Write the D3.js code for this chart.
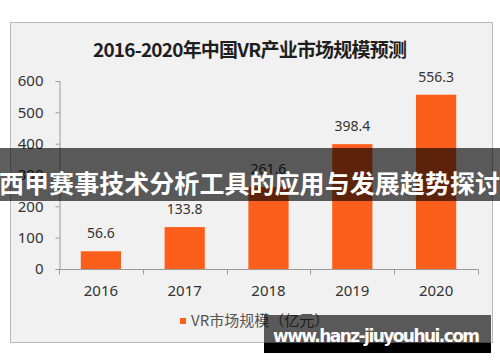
<!DOCTYPE html>
<html>
<head>
<meta charset="utf-8">
<script src="https://cdn.jsdelivr.net/npm/d3@7"></script>
<style>
  body { margin: 0; background: #fff; }
  svg { display: block; }
</style>
</head>
<body>
<div id="chart"></div>
<script>

// Data

var years = ['2016', '2017', '2018', '2019', '2020'];
var marketSize = [56.6, 133.8, 261.6, 398.4, 556.3];
var yTicks = [0, 100, 200, 300, 400, 500, 600];
var titleText = '2016-2020年中国VR产业市场规模预测';
var legendText = 'VR市场规模（亿元）';
var bannerText = '西甲赛事技术分析工具的应用与发展趋势探讨';
var watermarkText = 'www.hanz-jiuyouhui.com';

var svgWidth = 500;
var svgHeight = 362;
var cjk = '"Noto Sans CJK SC", "Noto Sans", sans-serif';

var svg = d3.select('#chart')
  .append('svg')
  .attr('width', svgWidth)
  .attr('height', svgHeight);

// chart frame with light gray background
svg.append('rect')
  .attr('x', 10.5).attr('y', 22.5)
  .attr('width', 482).attr('height', 320)
  .style('fill', '#f1f1f1')
  .style('stroke', '#b9b9b9')
  .style('stroke-width', 1);

// title
svg.append('text')
  .attr('x', 250).attr('y', 57)
  .attr('text-anchor', 'middle')
  .attr('textLength', 314)
  .style('font-family', cjk)
  .style('font-weight', 'bold')
  .style('font-size', '19px')
  .style('fill', '#1e1e1e')
  .text(titleText);

// scales
var x = d3.scaleBand()
  .domain(years)
  .range([59, 478])
  .paddingInner(0.52)
  .paddingOuter(0.26);

var y = d3.scaleLinear()
  .domain([0, 600])
  .range([269, 81]);

// y axis
var yAxis = svg.append('g')
  .attr('transform', 'translate(59.5,0)')
  .call(d3.axisLeft(y).tickValues(yTicks).tickSize(4).tickPadding(12));
yAxis.select('.domain').style('stroke', '#9a9a9a');
yAxis.selectAll('.tick line').style('stroke', '#9a9a9a');
yAxis.selectAll('text')
  .style('font-family', '"Noto Sans", sans-serif')
  .style('font-size', '15px')
  .style('fill', '#333');

// x axis, ticks sit between the categories
var xAxis = svg.append('g')
  .attr('transform', 'translate(0,269.5)');
xAxis.append('line')
  .attr('x1', 59).attr('x2', 478)
  .style('stroke', '#9a9a9a');
var edges = [59].concat(years.map(function (d) {
  return x(d) + x.bandwidth() + x.step() * x.paddingInner() / 2;
}));
edges[edges.length - 1] = 478;
xAxis.selectAll('.xtick')
  .data(edges)
  .enter()
  .append('line')
  .attr('x1', function (d) { return Math.round(d) + 0.5; })
  .attr('x2', function (d) { return Math.round(d) + 0.5; })
  .attr('y1', 0).attr('y2', 5)
  .style('stroke', '#9a9a9a');
xAxis.selectAll('.xlabel')
  .data(years)
  .enter()
  .append('text')
  .attr('x', function (d) { return x(d) + x.bandwidth() / 2; })
  .attr('y', 26)
  .attr('text-anchor', 'middle')
  .style('font-family', '"Noto Sans", sans-serif')
  .style('font-size', '15px')
  .style('fill', '#333')
  .text(function (d) { return d; });

// bars
svg.selectAll('.bar')
  .data(marketSize)
  .enter()
  .append('rect')
  .attr('x', function (d, i) { return x(years[i]); })
  .attr('width', x.bandwidth())
  .attr('y', function (d) { return y(d); })
  .attr('height', function (d) { return y(0) - y(d); })
  .style('fill', '#fc5f1b');

// value labels
svg.selectAll('.value')
  .data(marketSize)
  .enter()
  .append('text')
  .attr('x', function (d, i) { return x(years[i]) + x.bandwidth() / 2; })
  .attr('y', function (d) { return y(d) - 13; })
  .attr('text-anchor', 'middle')
  .style('font-family', '"Noto Sans", sans-serif')
  .style('font-size', '14px')
  .style('fill', '#333')
  .text(function (d) { return d.toFixed(1); });

// legend
svg.append('rect')
  .attr('x', 180).attr('y', 318)
  .attr('width', 6).attr('height', 6)
  .style('fill', '#fc5f1b');
svg.append('text')
  .attr('x', 191).attr('y', 326)
  .style('font-family', cjk)
  .style('font-size', '15px')
  .style('fill', '#555')
  .text(legendText);

// dark banner across the middle
svg.append('rect')
  .attr('x', 0).attr('y', 148)
  .attr('width', svgWidth).attr('height', 53)
  .style('fill', '#000')
  .style('fill-opacity', 0.63);
svg.append('text')
  .attr('x', -1).attr('y', 193)
  .attr('textLength', 501)
  .style('font-family', cjk)
  .style('font-weight', 'bold')
  .style('font-size', '25px')
  .style('fill', '#fff')
  .text(bannerText);

// watermark box
svg.append('rect')
  .attr('x', 264).attr('y', 315)
  .attr('width', 227).attr('height', 28)
  .style('fill', '#000')
  .style('fill-opacity', 0.63);
svg.append('rect')
  .attr('x', 264).attr('y', 343)
  .attr('width', 227).attr('height', 10)
  .style('fill', '#000');
svg.append('text')
  .attr('x', 273).attr('y', 342)
  .attr('textLength', 207)
  .style('font-family', '"DejaVu Sans", sans-serif')
  .style('font-weight', 'bold')
  .style('font-size', '17px')
  .style('fill', '#fff')
  .text(watermarkText);

</script>
</body>
</html>
